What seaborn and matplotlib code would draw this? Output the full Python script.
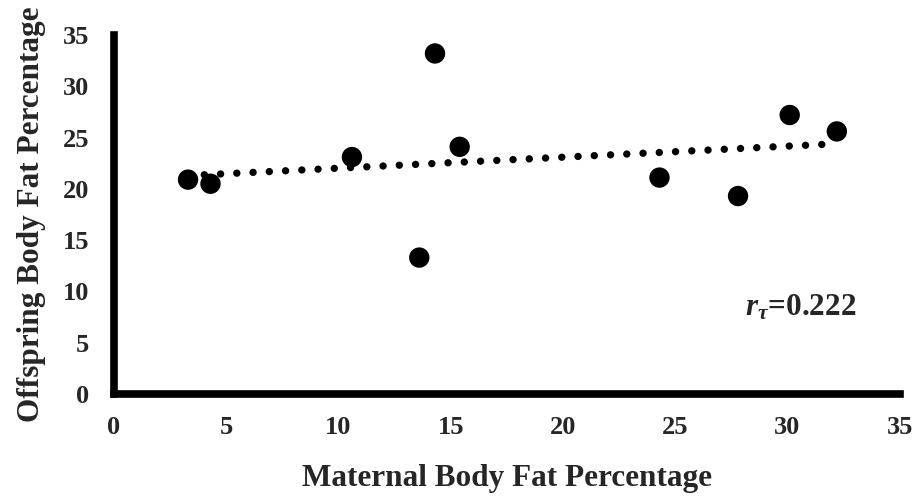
import numpy as np
import pandas as pd
import matplotlib
matplotlib.use("Agg")
import matplotlib.pyplot as plt
import seaborn as sns

maternal = [3.3, 4.3, 10.6, 13.6, 14.3, 15.4, 24.3, 27.8, 30.1, 32.2]
offspring = [20.9, 20.5, 23.1, 13.3, 33.2, 24.1, 21.1, 19.3, 27.2, 25.6]
x_ticks = [0, 5, 10, 15, 20, 25, 30, 35]
y_ticks = [0, 5, 10, 15, 20, 25, 30, 35]
annotation = r"$r_{\tau}$=0.222"

df = pd.DataFrame({"Maternal": maternal, "Offspring": offspring})

sns.set_theme(style="white")
plt.rcParams["font.family"] = ["Liberation Serif", "DejaVu Serif"]
plt.rcParams["font.weight"] = "bold"
plt.rcParams["mathtext.fontset"] = "custom"
plt.rcParams["mathtext.it"] = "Liberation Serif:bold:italic"
plt.rcParams["mathtext.rm"] = "Liberation Serif:bold"

fig = plt.figure(figsize=(9.19, 5.0), dpi=100)
ax = fig.add_axes([0.124, 0.212, 0.855, 0.718])

sns.regplot(data=df, x="Maternal", y="Offspring", ax=ax, ci=None, truncate=True,
            scatter_kws=dict(s=215, color="black", edgecolor="none", alpha=1, zorder=3),
            line_kws=dict(color="black", linewidth=5.3, linestyle=(0, (0.01, 2.2)),
                          dash_capstyle="round", zorder=2))

ax.set_xlim(0, 35)
ax.set_ylim(0, 35)
ax.set_xticks(x_ticks)
ax.set_yticks(y_ticks)
ax.set_xticklabels([str(t) for t in x_ticks], fontsize=19, fontweight="bold")
ax.set_yticklabels([str(t) for t in y_ticks], fontsize=19, fontweight="bold")
ax.tick_params(axis="both", length=0)
ax.tick_params(axis="x", pad=16)
ax.tick_params(axis="y", pad=18)

for side in ["top", "right"]:
    ax.spines[side].set_visible(False)
for side in ["left", "bottom"]:
    ax.spines[side].set_color("black")
    ax.spines[side].set_linewidth(5.5)
    ax.spines[side].set_capstyle("projecting")

ax.set_xlabel("Maternal Body Fat Percentage", fontsize=22.5, fontweight="bold", labelpad=18)
ax.set_ylabel("Offspring Body Fat Percentage", fontsize=22.5, fontweight="bold", labelpad=12)

ax.text(0.803, 0.22, annotation, transform=ax.transAxes, fontsize=22.5,
        fontweight="bold", ha="left", va="baseline")

fig.savefig("out.png", dpi=100)
